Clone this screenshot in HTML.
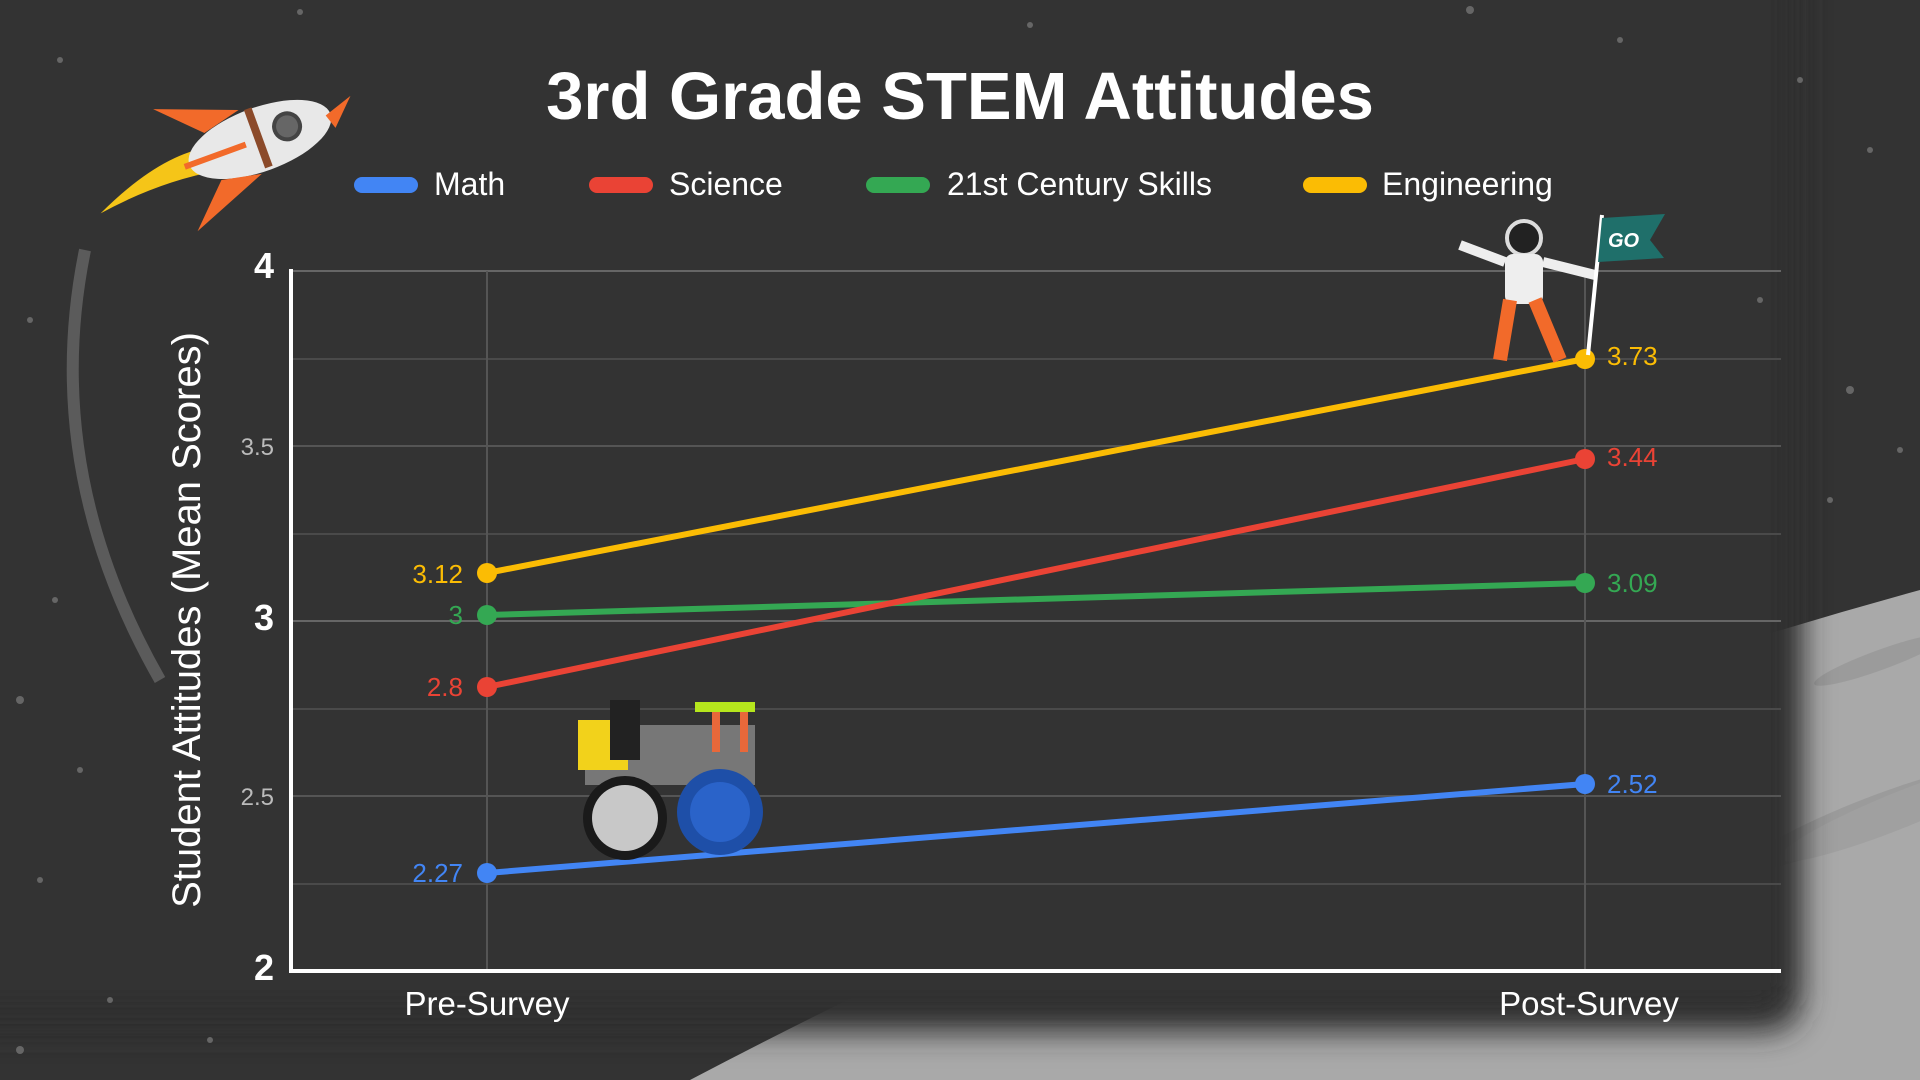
<!DOCTYPE html>
<html><head><style>
html,body{margin:0;padding:0;width:1920px;height:1080px;overflow:hidden;background:#333;}
</style></head><body>
<svg width="1920" height="1080" viewBox="0 0 1920 1080" xmlns="http://www.w3.org/2000/svg" font-family="Liberation Sans, sans-serif">
<defs>
<filter id="blur" x="-10%" y="-10%" width="120%" height="120%"><feGaussianBlur stdDeviation="16"/></filter>
</defs>
<rect width="1920" height="1080" fill="#333"/>
<!-- moon -->
<path d="M690 1080 Q1300 760 1920 590 L1920 1080 Z" fill="#a9a9a9"/>
<ellipse cx="1880" cy="660" rx="70" ry="10" fill="#9b9b9b" transform="rotate(-20 1880 660)"/>
<ellipse cx="1860" cy="820" rx="130" ry="18" fill="#9b9b9b" transform="rotate(-22 1860 820)"/>
<ellipse cx="1900" cy="810" rx="130" ry="18" fill="#a0a0a0" transform="rotate(-22 1900 810)"/>
<!-- panel shadow over moon -->
<rect x="-60" y="-60" width="1860" height="1090" rx="30" fill="#2e2e2e" filter="url(#blur)"/>
<rect x="-60" y="-60" width="1845" height="1070" rx="20" fill="#333" filter="url(#blur)"/>
<rect x="-60" y="-60" width="1830" height="1050" fill="#333"/>
<!-- stars -->
<g fill="#666">
<circle cx="60" cy="60" r="3"/><circle cx="300" cy="12" r="3"/><circle cx="1030" cy="25" r="3"/><circle cx="1470" cy="10" r="4"/>
<circle cx="1800" cy="80" r="3"/><circle cx="1870" cy="150" r="3"/><circle cx="1850" cy="390" r="4"/><circle cx="1900" cy="450" r="3"/>
<circle cx="30" cy="320" r="3"/><circle cx="55" cy="600" r="3"/><circle cx="20" cy="700" r="4"/><circle cx="80" cy="770" r="3"/>
<circle cx="40" cy="880" r="3"/><circle cx="110" cy="1000" r="3"/><circle cx="20" cy="1050" r="4"/><circle cx="210" cy="1040" r="3"/>
<circle cx="1620" cy="40" r="3"/><circle cx="1760" cy="300" r="3"/><circle cx="1830" cy="500" r="3"/>
</g>
<!-- rocket trail -->
<path d="M85 250 Q40 470 160 680" stroke="#777" stroke-width="12" fill="none" opacity="0.6"/>
<!-- rocket -->
<g transform="translate(230,145) rotate(-20)">
<path d="M-145 20 Q-70 -15 -20 -5 L-20 20 Q-80 10 -145 20Z" fill="#f5c518"/>
<ellipse cx="30" cy="5" rx="75" ry="32" fill="#e8e8e8"/>
<path d="M100 5 L130 -5 L105 20Z" fill="#f26a2a"/>
<path d="M-20 -20 L-60 -60 L20 -30Z" fill="#f26a2a"/>
<path d="M-20 30 L-60 70 L20 38Z" fill="#f26a2a"/>
<circle cx="60" cy="2" r="13" fill="#666" stroke="#444" stroke-width="4"/>
<rect x="25" y="-28" width="8" height="62" fill="#8b4a2a"/>
<line x1="-50" y1="5" x2="15" y2="5" stroke="#f26a2a" stroke-width="6"/>
</g>
<!-- title -->
<text x="960" y="119" text-anchor="middle" font-size="67" font-weight="bold" fill="#fff">3rd Grade STEM Attitudes</text>
<!-- legend -->
<g font-size="32" fill="#fff">
<rect x="354" y="177" width="64" height="16" rx="8" fill="#4285f4"/><text x="434" y="195">Math</text>
<rect x="589" y="177" width="64" height="16" rx="8" fill="#ea4335"/><text x="669" y="195">Science</text>
<rect x="866" y="177" width="64" height="16" rx="8" fill="#34a853"/><text x="947" y="195">21st Century Skills</text>
<rect x="1303" y="177" width="64" height="16" rx="8" fill="#fbbc04"/><text x="1382" y="195">Engineering</text>
</g>
<!-- grid -->
<g stroke="#4a4a4a" stroke-width="2">
<line x1="291" y1="271" x2="1781" y2="271" stroke="#666"/>
<line x1="291" y1="359" x2="1781" y2="359"/>
<line x1="291" y1="446" x2="1781" y2="446" stroke="#555"/>
<line x1="291" y1="534" x2="1781" y2="534"/>
<line x1="291" y1="621" x2="1781" y2="621" stroke="#666"/>
<line x1="291" y1="709" x2="1781" y2="709"/>
<line x1="291" y1="796" x2="1781" y2="796" stroke="#555"/>
<line x1="291" y1="884" x2="1781" y2="884"/>
<line x1="487" y1="271" x2="487" y2="971" stroke="#555"/>
<line x1="1585" y1="271" x2="1585" y2="971" stroke="#555"/>
</g>
<line x1="291" y1="269" x2="291" y2="973" stroke="#fff" stroke-width="4"/>
<line x1="289" y1="971" x2="1781" y2="971" stroke="#fff" stroke-width="4"/>
<!-- y ticks -->
<g fill="#fff" text-anchor="end">
<text x="274" y="278" font-size="36" font-weight="bold">4</text>
<text x="274" y="455" font-size="24" fill="#bbb">3.5</text>
<text x="274" y="630" font-size="36" font-weight="bold">3</text>
<text x="274" y="805" font-size="24" fill="#bbb">2.5</text>
<text x="274" y="980" font-size="36" font-weight="bold">2</text>
</g>
<text transform="translate(200,620) rotate(-90)" text-anchor="middle" font-size="40" fill="#fff">Student  Attitudes (Mean Scores)</text>
<g font-size="33" fill="#fff" text-anchor="middle">
<text x="487" y="1015">Pre-Survey</text>
<text x="1589" y="1015">Post-Survey</text>
</g>
<!-- series -->
<g stroke-width="6" fill="none">
<line x1="487" y1="873" x2="1585" y2="784" stroke="#4285f4"/>
<line x1="487" y1="615" x2="1585" y2="583" stroke="#34a853"/>
<line x1="487" y1="687" x2="1585" y2="459" stroke="#ea4335"/>
<line x1="487" y1="573" x2="1585" y2="359" stroke="#fbbc04"/>
</g>
<g>
<circle cx="487" cy="873" r="10" fill="#4285f4"/><circle cx="1585" cy="784" r="10" fill="#4285f4"/>
<circle cx="487" cy="615" r="10" fill="#34a853"/><circle cx="1585" cy="583" r="10" fill="#34a853"/>
<circle cx="487" cy="687" r="10" fill="#ea4335"/><circle cx="1585" cy="459" r="10" fill="#ea4335"/>
<circle cx="487" cy="573" r="10" fill="#fbbc04"/><circle cx="1585" cy="359" r="10" fill="#fbbc04"/>
</g>
<g font-size="26">
<text x="463" y="882" text-anchor="end" fill="#4285f4">2.27</text>
<text x="463" y="624" text-anchor="end" fill="#34a853">3</text>
<text x="463" y="696" text-anchor="end" fill="#ea4335">2.8</text>
<text x="463" y="583" text-anchor="end" fill="#fbbc04">3.12</text>
<text x="1607" y="793" fill="#4285f4">2.52</text>
<text x="1607" y="592" fill="#34a853">3.09</text>
<text x="1607" y="466" fill="#ea4335">3.44</text>
<text x="1607" y="365" fill="#fbbc04">3.73</text>
</g>
<!-- robot -->
<g>
<rect x="585" y="725" width="170" height="60" fill="#777"/>
<rect x="578" y="720" width="50" height="50" fill="#f2d21b"/>
<rect x="610" y="700" width="30" height="60" fill="#222"/>
<rect x="695" y="702" width="60" height="10" fill="#b5e61d"/>
<rect x="712" y="712" width="8" height="40" fill="#e8683a"/><rect x="740" y="712" width="8" height="40" fill="#e8683a"/>
<circle cx="625" cy="818" r="42" fill="#1a1a1a"/><circle cx="625" cy="818" r="33" fill="#c8c8c8"/>
<circle cx="720" cy="812" r="43" fill="#1e4fa8"/><circle cx="720" cy="812" r="30" fill="#2a63c9"/>
</g>
<!-- astronaut -->
<g>
<circle cx="1524" cy="238" r="17" fill="#222" stroke="#ddd" stroke-width="4"/>
<rect x="1505" y="254" width="38" height="50" rx="8" fill="#eee"/>
<path d="M1505 262 L1460 245" stroke="#eee" stroke-width="10"/>
<path d="M1543 262 L1595 275" stroke="#eee" stroke-width="10"/>
<path d="M1510 300 L1500 360" stroke="#f26a2a" stroke-width="14"/>
<path d="M1535 300 L1560 360" stroke="#f26a2a" stroke-width="14"/>
<line x1="1588" y1="355" x2="1602" y2="215" stroke="#fff" stroke-width="4"/>
<path d="M1602 218 L1665 214 L1650 240 L1664 258 L1598 262Z" fill="#1f6f6a"/>
<text x="1608" y="247" font-size="20" font-weight="bold" font-style="italic" fill="#fff">GO</text>
</g>
</svg>
</body></html>
